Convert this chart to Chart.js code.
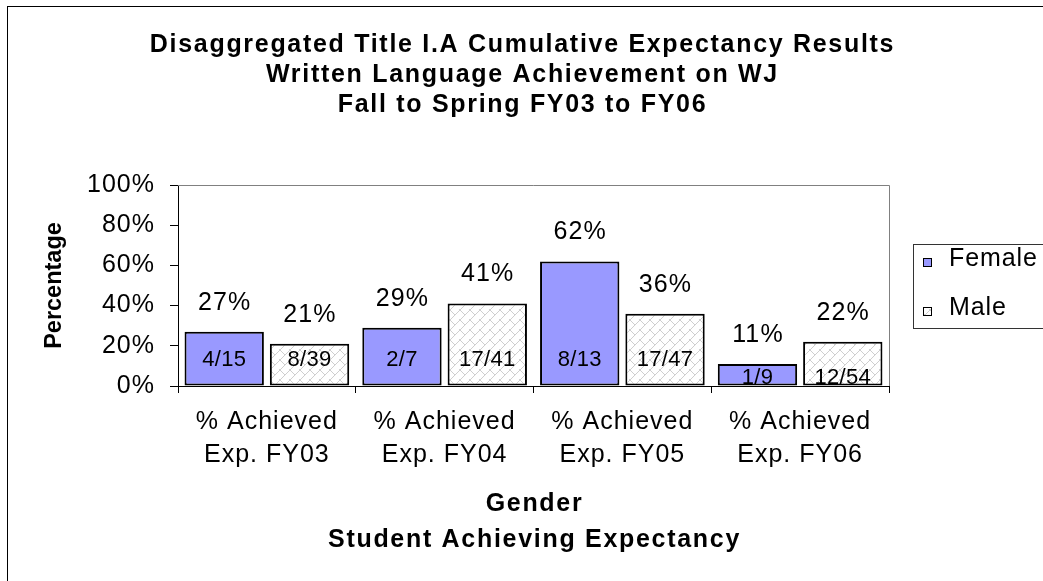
<!DOCTYPE html>
<html><head><meta charset="utf-8">
<script src="https://cdn.jsdelivr.net/npm/chart.js@4.4.1/dist/chart.umd.min.js"></script>
<style>html,body{margin:0;padding:0;background:#fff;}#wrap{width:1043px;height:581px;}</style>
</head><body><div id="wrap"><canvas id="c" width="1043" height="581"></canvas></div>
<script>
const categories = [['% Achieved','Exp. FY03'],['% Achieved','Exp. FY04'],['% Achieved','Exp. FY05'],['% Achieved','Exp. FY06']];
const femaleValues = [27, 29, 62, 11];
const maleValues = [21, 41, 36, 22];
const femaleFractions = ['4/15','2/7','8/13','1/9'];
const maleFractions = ['8/39','17/41','17/47','12/54'];
const yTickValues = [0, 20, 40, 60, 80, 100];
const seriesNames = ['Female', 'Male'];
const titleLines = ['Disaggregated Title I.A Cumulative Expectancy Results','Written Language Achievement on WJ','Fall to Spring FY03 to FY06'];
const xTitleLines = ['Gender','Student Achieving Expectancy'];
const yTitleText = 'Percentage';

const FONT = '"Liberation Sans", Arial, sans-serif';

function makeBrick(){
  const s = 10;
  const c = document.createElement('canvas'); c.width = s; c.height = s;
  const g = c.getContext('2d');
  g.fillStyle = '#fff'; g.fillRect(0,0,s,s);
  g.strokeStyle = '#cfcfcf'; g.lineWidth = 1;
  g.beginPath();
  g.moveTo(-2, s+2); g.lineTo(s+2, -2);
  g.moveTo(-2, 2); g.lineTo(2, -2);
  g.moveTo(s-2, s+2); g.lineTo(s+2, s-2);
  g.moveTo(-1, -1); g.lineTo(s/2, s/2);
  g.moveTo(s-1, s-1); g.lineTo(s+1, s+1);
  g.stroke();
  return g.createPattern(c, 'repeat');
}
const ctxMain = document.getElementById('c').getContext('2d');
const malePattern = makeBrick();

const decor = {
  id: 'decor',
  beforeDraw(chart){
    const ctx = chart.ctx;
    ctx.save(); ctx.fillStyle = '#fff'; ctx.fillRect(0,0,chart.width,chart.height); ctx.restore();
    ctx.letterSpacing = '1px';
  },
  beforeDatasetsDraw(chart){
    const {ctx, chartArea: a} = chart;
    ctx.save();
    ctx.strokeStyle = '#808080'; ctx.lineWidth = 1;
    ctx.beginPath();
    ctx.moveTo(a.left, Math.round(a.top) + 0.5);
    ctx.lineTo(Math.round(a.right) + 0.5, Math.round(a.top) + 0.5);
    ctx.lineTo(Math.round(a.right) + 0.5, a.bottom);
    ctx.stroke();
    ctx.restore();
  },
  afterDatasetsDraw(chart, args, opts){
    const ctx = chart.ctx;
    const base = chart.scales.y.getPixelForValue(0);
    ctx.save();
    ctx.fillStyle = '#000';
    ctx.textAlign = 'center';
    ctx.textBaseline = 'middle';
    chart.data.datasets.forEach((ds, di) => {
      const meta = chart.getDatasetMeta(di);
      meta.data.forEach((bar, i) => {
        ctx.letterSpacing = '1.1px';
        ctx.font = '25px ' + FONT;
        ctx.fillText(ds.data[i] + '%', bar.x + 0.5, bar.y - 29);
        ctx.letterSpacing = '0.3px';
        ctx.font = '22px ' + FONT;
        ctx.fillText(ds.fractions[i], bar.x, base - opts.fractionLift[i]);
      });
    });
    ctx.restore();
  },
  afterDraw(chart){
    const ctx = chart.ctx;
    const a = chart.chartArea;
    ctx.save();
    ctx.fillStyle = '#000';
    // main title
    ctx.letterSpacing = '1.7px';
    ctx.font = 'bold 25px ' + FONT;
    ctx.textAlign = 'center'; ctx.textBaseline = 'alphabetic';
    titleLines.forEach((t, i) => ctx.fillText(t, chart.width / 2 + 1, 52 + i * 30));
    // x axis title
    const cx = (a.left + a.right) / 2 + 1;
    xTitleLines.forEach((t, i) => ctx.fillText(t, cx, 511 + i * 35.5));
    // y axis title
    ctx.letterSpacing = '0px';
    ctx.font = 'bold 23.5px ' + FONT;
    ctx.translate(61, (a.top + a.bottom) / 2);
    ctx.rotate(-Math.PI / 2);
    ctx.fillText(yTitleText, 0, 0);
    ctx.setTransform(1,0,0,1,0,0);
    // legend
    ctx.strokeStyle = '#333'; ctx.lineWidth = 1;
    ctx.strokeRect(913.5, 244.5, 300, 84);
    ctx.letterSpacing = '0.9px';
    ctx.font = '25px ' + FONT;
    ctx.textAlign = 'left';
    chart.data.datasets.forEach((ds, i) => {
      const by = 266 + i * 49;
      ctx.fillStyle = ds.backgroundColor;
      ctx.fillRect(923, by - 8, 9, 9);
      ctx.strokeStyle = '#000';
      ctx.strokeRect(923.5, by - 7.5, 8, 8);
      ctx.fillStyle = '#000';
      ctx.fillText(ds.label, 949, by);
    });
    // outer border
    ctx.strokeStyle = '#000';
    ctx.strokeRect(7.5, 6.5, 1200, 1200);
    ctx.restore();
  }
};

new Chart(ctxMain, {
  type: 'bar',
  data: {
    labels: categories,
    datasets: [
      { label: seriesNames[0], data: femaleValues, fractions: femaleFractions, backgroundColor: '#9999ff', borderColor: '#000', borderWidth: 2, borderSkipped: false },
      { label: seriesNames[1], data: maleValues, fractions: maleFractions, backgroundColor: malePattern, borderColor: '#000', borderWidth: 2, borderSkipped: false }
    ]
  },
  options: {
    responsive: false, animation: false, devicePixelRatio: 1,
    layout: { padding: { top: 185, right: 154, left: 0, bottom: 0 } },
    datasets: { bar: { categoryPercentage: 0.96, barPercentage: 0.93 } },
    plugins: {
      legend: { display: false }, title: { display: false }, tooltip: { enabled: false },
      decor: { fractionLift: [26, 26, 26, 8] }
    },
    scales: {
      x: {
        offset: true,
        grid: { display: true, drawOnChartArea: false, drawTicks: true, tickLength: 7, color: '#000', offset: true },
        border: { display: true, color: '#000', width: 1 },
        ticks: { color: '#000', font: { family: FONT, size: 25, lineHeight: 1.32 }, padding: 12.5, maxRotation: 0, autoSkip: false },
        afterFit(s){ s.height = 195; }
      },
      y: {
        min: 0, max: 100,
        afterBuildTicks(s){ s.ticks = yTickValues.map(v => ({ value: v })); },
        grid: { display: true, drawOnChartArea: false, drawTicks: true, tickLength: 8, color: '#000' },
        border: { display: true, color: '#000', width: 1 },
        ticks: { color: '#000', font: { family: FONT, size: 25 }, padding: 15, callback: v => v + '%' },
        afterFit(s){ s.width = 178; }
      }
    }
  },
  plugins: [decor]
});
</script>
</body></html>
